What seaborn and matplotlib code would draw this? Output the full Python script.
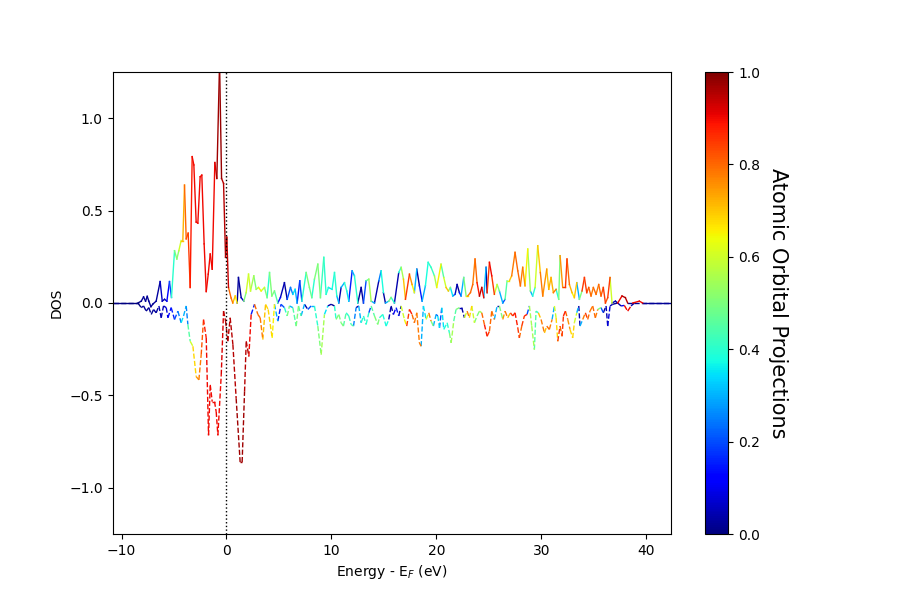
import numpy as np
import pandas as pd
import seaborn as sns
import matplotlib
matplotlib.use('Agg')
import matplotlib.pyplot as plt

# spin up: energy (eV), DOS, orbital projection (0..1)
up_e = [-11.5, -8.44, -8.12, -7.9, -7.71, -7.55, -7.4, -7.2, -7.0, -6.7,
        -6.32, -6.12, -5.9, -5.68, -5.43, -5.24, -4.95, -4.73, -4.54, -4.32,
        -4.16, -4.0, -3.84, -3.65, -3.46, -3.27, -3.11, -2.89, -2.73, -2.51,
        -2.35, -2.13, -1.93, -1.74, -1.55, -1.36, -1.11, -0.92, -0.66, -0.47,
        -0.28, -0.09, 0.03, 0.19, 0.44, 0.6, 0.83, 1.02, 1.14, 1.4,
        1.65, 1.87, 2.1, 2.29, 2.6, 2.83, 3.05, 3.3, 3.62, 3.87,
        4.1, 4.32, 4.57, 4.89, 5.14, 5.52, 5.78, 6.1, 6.32, 6.54,
        6.73, 6.98, 7.18, 7.59, 7.9, 8.13, 8.38, 8.7, 8.95, 9.27,
        9.49, 9.71, 10.06, 10.29, 10.51, 10.7, 10.92, 11.24, 11.46, 11.65,
        11.97, 12.19, 12.51, 12.83, 13.05, 13.3, 13.56, 13.78, 14.1, 14.51,
        14.73, 14.95, 15.14, 15.46, 15.68, 16.0, 16.41, 16.64, 16.86, 17.05,
        17.43, 17.68, 17.9, 18.13, 18.38, 18.64, 18.95, 19.21, 19.49, 19.81,
        20.03, 20.44, 20.7, 20.92, 21.14, 21.33, 21.56, 21.78, 21.97, 22.19,
        22.35, 22.6, 22.83, 22.98, 23.24, 23.46, 23.68, 23.87, 24.1, 24.32,
        24.51, 24.73, 24.83, 25.05, 25.27, 25.52, 25.78, 26.0, 26.32, 26.54,
        26.73, 26.95, 27.17, 27.49, 27.75, 28.0, 28.22, 28.44, 28.7, 28.95,
        29.17, 29.4, 29.65, 29.9, 30.13, 30.51, 30.7, 30.92, 31.14, 31.4,
        31.65, 31.78, 32.03, 32.29, 32.44, 32.67, 32.92, 33.14, 33.37, 33.62,
        33.87, 34.1, 34.32, 34.51, 34.73, 34.95, 35.21, 35.46, 35.68, 35.9,
        36.1, 36.32, 36.54, 36.73, 37.05, 37.27, 37.68, 38.0, 38.22, 38.7,
        39.33, 39.65, 43.0]
up_dos = [0, 0, 0.01, 0.033, 0.01, 0.036, 0.01, -0.02, -0.005, 0.01,
          0.116, 0.01, 0.02, 0.01, 0.116, 0.03, 0.283, 0.238, 0.283, 0.338,
          0.338, 0.638, 0.347, 0.378, 0.084, 0.792, 0.747, 0.438, 0.432, 0.683,
          0.692, 0.32, 0.062, 0.156, 0.265, 0.183, 0.76, 0.674, 1.30, 0.674,
          0.647, 0.247, 0.356, 0.084, 0.027, 0.0, 0.038, 0.0, 0.138, 0.029,
          0.01, 0.056, 0.156, 0.065, 0.147, 0.074, 0.084, 0.065, 0.084, 0.029,
          0.165, 0.038, 0.065, 0.0, 0.03, 0.11, 0.02, 0.084, 0.047, 0.074,
          0.0, 0.12, 0.01, 0.165, 0.084, 0.029, 0.129, 0.21, 0.029, 0.247,
          0.047, 0.084, 0.074, 0.165, 0.038, 0.0, 0.084, 0.11, 0.065, 0.01,
          0.174, 0.147, 0.0, 0.084, 0.0, 0.12, 0.129, 0.01, 0.0, 0.12,
          0.174, 0.056, 0.0, 0.01, 0.03, 0.0, 0.165, 0.193, 0.129, 0.02,
          0.156, 0.1, 0.056, 0.183, 0.093, 0.01, 0.093, 0.22, 0.193, 0.147,
          0.084, 0.21, 0.138, 0.084, 0.065, 0.084, 0.038, 0.047, 0.1, 0.056,
          0.038, 0.138, 0.038, 0.038, 0.056, 0.1, 0.238, 0.11, 0.038, 0.084,
          0.029, 0.193, 0.056, 0.22, 0.147, 0.047, 0.1, 0.065, 0.0, 0.02,
          0.12, 0.12, 0.147, 0.274, 0.174, 0.093, 0.193, 0.093, 0.292, 0.065,
          0.038, 0.084, 0.31, 0.165, 0.038, 0.183, 0.074, 0.138, 0.056, 0.074,
          0.02, 0.256, 0.084, 0.084, 0.238, 0.1, 0.056, 0.029, 0.11, 0.02,
          0.065, 0.138, 0.056, 0.084, 0.038, 0.084, 0.047, 0.1, 0.038, 0.084,
          0.0, 0.029, 0.138, 0.0, 0.01, 0.0, 0.038, 0.029, 0.0, 0.0,
          0.01, 0.0, 0.0]
up_proj = [0.0, 0.0, 0.02, 0.02, 0.02, 0.02, 0.02, 0.02, 0.02, 0.03,
           0.06, 0.03, 0.06, 0.12, 0.2, 0.4, 0.5, 0.52, 0.6, 0.7,
           0.72, 0.8, 0.82, 0.85, 0.88, 0.9, 0.9, 0.9, 0.9, 0.9,
           0.9, 0.9, 0.9, 0.9, 0.9, 0.9, 0.92, 0.97, 0.98, 0.95,
           0.95, 0.95, 0.93, 0.8, 0.78, 0.7, 0.65, 0.03, 0.02, 0.06,
           0.5, 0.6, 0.6, 0.55, 0.5, 0.55, 0.65, 0.6, 0.5, 0.4,
           0.5, 0.5, 0.45, 0.12, 0.05, 0.03, 0.2, 0.25, 0.35, 0.3,
           0.15, 0.2, 0.4, 0.5, 0.48, 0.4, 0.5, 0.5, 0.42, 0.4,
           0.38, 0.35, 0.38, 0.4, 0.3, 0.04, 0.3, 0.4, 0.35, 0.15,
           0.3, 0.4, 0.02, 0.03, 0.2, 0.45, 0.55, 0.3, 0.04, 0.25,
           0.38, 0.03, 0.3, 0.5, 0.4, 0.04, 0.4, 0.55, 0.7, 0.85,
           0.75, 0.65, 0.3, 0.03, 0.15, 0.3, 0.38, 0.4, 0.42, 0.55,
           0.65, 0.45, 0.6, 0.7, 0.5, 0.35, 0.2, 0.05, 0.02, 0.15,
           0.3, 0.5, 0.65, 0.78, 0.8, 0.78, 0.8, 0.88, 0.95, 0.9,
           0.3, 0.03, 0.85, 0.9, 0.85, 0.6, 0.5, 0.3, 0.2, 0.45,
           0.6, 0.7, 0.78, 0.8, 0.8, 0.78, 0.75, 0.65, 0.55, 0.3,
           0.4, 0.6, 0.7, 0.78, 0.75, 0.7, 0.72, 0.72, 0.78, 0.4,
           0.5, 0.75, 0.85, 0.85, 0.8, 0.72, 0.65, 0.7, 0.3, 0.5,
           0.85, 0.85, 0.82, 0.8, 0.78, 0.8, 0.78, 0.8, 0.82, 0.85,
           0.82, 0.85, 0.6, 0.05, 0.02, 0.9, 0.95, 0.95, 0.02, 0.9,
           0.9, 0.02, 0.0]

# spin down
dn_e = [-11.5, -8.44, -8.12, -7.9, -7.65, -7.4, -7.17, -6.95, -6.7, -6.44,
        -6.22, -6.0, -5.74, -5.58, -5.27, -4.95, -4.63, -4.32, -4.09, -3.84,
        -3.68, -3.46, -3.2, -2.89, -2.63, -2.41, -2.19, -1.93, -1.71, -1.55,
        -1.36, -1.14, -0.98, -0.82, -0.5, -0.28, -0.09, 0.13, 0.35, 0.61,
        0.92, 1.3, 1.49, 1.72, 1.88, 2.13, 2.35, 2.67, 2.99, 3.21,
        3.46, 3.72, 3.97, 4.35, 4.57, 4.89, 5.2, 5.52, 5.78, 6.0,
        6.32, 6.64, 6.86, 7.11, 7.43, 7.75, 8.06, 8.38, 8.7, 9.02,
        9.33, 9.65, 9.97, 10.29, 10.44, 10.7, 10.92, 11.14, 11.4, 11.65,
        11.87, 12.1, 12.35, 12.6, 12.83, 13.05, 13.3, 13.56, 13.78, 14.1,
        14.41, 14.57, 14.89, 15.21, 15.46, 15.68, 15.9, 16.16, 16.41, 16.64,
        16.95, 17.17, 17.43, 17.68, 17.9, 18.13, 18.38, 18.54, 18.76, 19.02,
        19.27, 19.49, 19.71, 19.97, 20.13, 20.29, 20.51, 20.7, 21.02, 21.24,
        21.4, 21.65, 21.87, 22.19, 22.41, 22.67, 22.92, 23.14, 23.37, 23.62,
        23.87, 24.1, 24.32, 24.57, 24.83, 25.05, 25.27, 25.52, 25.78, 26.0,
        26.32, 26.54, 26.79, 27.05, 27.27, 27.49, 27.75, 27.9, 28.13, 28.38,
        28.63, 28.86, 29.08, 29.33, 29.49, 29.71, 29.97, 30.29, 30.51, 30.76,
        31.02, 31.24, 31.4, 31.56, 31.78, 31.97, 32.1, 32.29, 32.51, 32.73,
        32.98, 33.14, 33.37, 33.56, 33.68, 33.94, 34.19, 34.41, 34.63, 34.89,
        35.14, 35.37, 35.68, 35.9, 36.16, 36.32, 36.54, 36.79, 37.27, 37.59,
        37.9, 38.22, 38.54, 38.86, 43.0]
dn_dos = [0, 0, -0.025, -0.016, -0.044, -0.025, -0.062, -0.035, -0.053, -0.016,
          -0.08, -0.016, -0.025, -0.08, -0.025, -0.089, -0.044, -0.107, -0.07, -0.016,
          -0.116, -0.207, -0.234, -0.398, -0.416, -0.28, -0.089, -0.189, -0.716, -0.443,
          -0.534, -0.534, -0.589, -0.716, -0.389, -0.044, -0.098, -0.207, -0.08, -0.225,
          -0.516, -0.861, -0.861, -0.48, -0.207, -0.289, -0.062, -0.007, -0.062, -0.08,
          -0.198, -0.007, -0.035, -0.189, -0.007, -0.098, -0.007, -0.025, -0.07, -0.016,
          -0.025, -0.125, -0.016, -0.07, -0.007, -0.035, -0.016, -0.016, -0.125, -0.28,
          -0.062, -0.016, -0.007, -0.016, -0.089, -0.062, -0.107, -0.125, -0.053, -0.07,
          -0.116, -0.125, -0.025, -0.016, -0.107, -0.07, -0.116, -0.053, -0.016, -0.07,
          -0.116, -0.08, -0.062, -0.125, -0.089, -0.016, -0.062, -0.025, -0.07, -0.016,
          -0.089, -0.125, -0.035, -0.062, -0.107, -0.053, -0.216, -0.234, -0.016, -0.089,
          -0.053, -0.098, -0.125, -0.062, -0.07, -0.134, -0.025, -0.143, -0.107, -0.162,
          -0.216, -0.098, -0.035, -0.025, -0.025, -0.08, -0.044, -0.08, -0.016, -0.107,
          -0.07, -0.044, -0.053, -0.116, -0.18, -0.153, -0.044, -0.089, -0.016, -0.016,
          -0.089, -0.044, -0.08, -0.053, -0.07, -0.053, -0.134, -0.189, -0.125, -0.07,
          -0.062, -0.016, -0.125, -0.252, -0.044, -0.053, -0.089, -0.162, -0.125, -0.143,
          -0.089, -0.016, -0.08, -0.207, -0.125, -0.18, -0.07, -0.044, -0.089, -0.143,
          -0.189, -0.107, -0.053, -0.016, -0.125, -0.089, -0.053, -0.089, -0.044, -0.016,
          -0.08, -0.035, -0.025, -0.053, -0.016, -0.125, -0.016, -0.007, 0.0, -0.016,
          -0.013, -0.044, -0.016, 0.0, 0.0]
dn_proj = [0.0, 0.0, 0.02, 0.02, 0.02, 0.02, 0.02, 0.03, 0.03, 0.05,
           0.05, 0.06, 0.08, 0.12, 0.15, 0.2, 0.25, 0.35, 0.3, 0.25,
           0.45, 0.6, 0.68, 0.75, 0.78, 0.82, 0.88, 0.9, 0.9, 0.9,
           0.9, 0.9, 0.9, 0.9, 0.92, 0.95, 0.95, 0.95, 0.95, 0.95,
           0.97, 0.97, 0.97, 0.95, 0.95, 0.9, 0.15, 0.8, 0.8, 0.78,
           0.7, 0.68, 0.68, 0.65, 0.3, 0.15, 0.2, 0.4, 0.5, 0.3,
           0.45, 0.5, 0.45, 0.3, 0.04, 0.2, 0.3, 0.4, 0.5, 0.55,
           0.35, 0.04, 0.02, 0.4, 0.5, 0.5, 0.5, 0.45, 0.4, 0.42,
           0.45, 0.25, 0.04, 0.3, 0.4, 0.4, 0.4, 0.2, 0.45, 0.5,
           0.5, 0.4, 0.38, 0.38, 0.04, 0.03, 0.1, 0.15, 0.04, 0.6,
           0.65, 0.85, 0.88, 0.8, 0.78, 0.78, 0.78, 0.3, 0.35, 0.6,
           0.78, 0.5, 0.3, 0.2, 0.35, 0.2, 0.35, 0.38, 0.4, 0.5,
           0.55, 0.45, 0.5, 0.05, 0.03, 0.6, 0.78, 0.68, 0.6, 0.5,
           0.5, 0.55, 0.8, 0.88, 0.85, 0.8, 0.78, 0.3, 0.03, 0.5,
           0.75, 0.78, 0.7, 0.85, 0.88, 0.88, 0.85, 0.8, 0.85, 0.88,
           0.2, 0.55, 0.55, 0.45, 0.4, 0.7, 0.78, 0.7, 0.8, 0.78,
           0.3, 0.6, 0.68, 0.85, 0.8, 0.85, 0.88, 0.8, 0.75, 0.68,
           0.68, 0.6, 0.3, 0.04, 0.3, 0.78, 0.85, 0.8, 0.78, 0.8,
           0.78, 0.5, 0.2, 0.03, 0.05, 0.08, 0.05, 0.02, 0.03, 0.1,
           0.9, 0.9, 0.04, 0.02, 0.0]


def segments(e, d, p):
    # one unit per segment, coloured by the projection at its left point
    rows = []
    for i in range(len(e) - 1):
        rows.append((i, e[i], d[i], p[i]))
        rows.append((i, e[i + 1], d[i + 1], p[i]))
    return pd.DataFrame(rows, columns=['seg', 'energy', 'dos', 'proj'])


up_df = segments(up_e, up_dos, up_proj)
dn_df = segments(dn_e, dn_dos, dn_proj)

jet = matplotlib.colormaps['jet']

fig, ax = plt.subplots(figsize=(9, 6), dpi=100)
sns.lineplot(data=dn_df, x='energy', y='dos', hue='proj', units='seg',
             estimator=None, sort=False, palette=jet, hue_norm=(0, 1),
             lw=1, linestyle='--', legend=False, ax=ax)
sns.lineplot(data=up_df, x='energy', y='dos', hue='proj', units='seg',
             estimator=None, sort=False, palette=jet, hue_norm=(0, 1),
             lw=1, legend=False, ax=ax)
ax.axvline(0, color='k', ls=':', lw=1)

ax.set_xlim(-10.86, 42.3)
ax.set_ylim(-1.25, 1.25)
ax.set_xlabel('Energy - E$_F$ (eV)')
ax.set_ylabel('DOS')

sm = plt.cm.ScalarMappable(cmap=jet, norm=plt.Normalize(0, 1))
cbar = fig.colorbar(sm, ax=ax)
cbar.set_label('Atomic Orbital Projections', rotation=270, labelpad=20, fontsize=15)

fig.savefig('out.png', dpi=100)
